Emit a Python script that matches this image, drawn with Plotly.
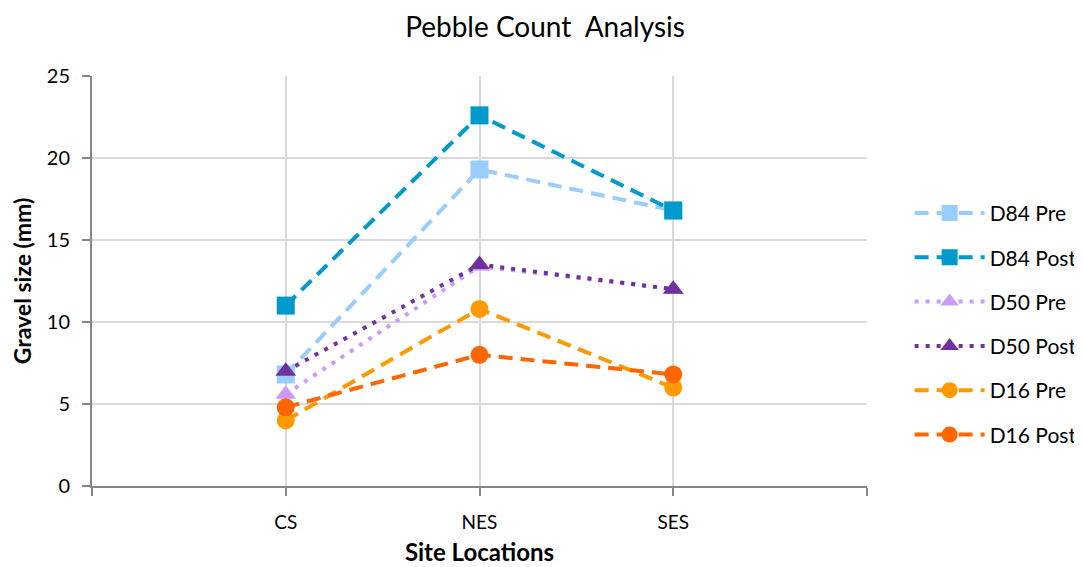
import plotly.graph_objects as go

# site positions on the axis (Excel-like category slots)
sites = ["CS", "NES", "SES"]
site_pos = [1, 2, 3]
tick_pos = [0, 1, 2, 3, 4]
tick_text = ["", "CS", "NES", "SES", ""]

d84_pre = [6.8, 19.3, 16.8]
d84_post = [11.0, 22.6, 16.8]
d50_pre = [5.6, 13.4, 12.0]
d50_post = [7.0, 13.5, 12.0]
d16_pre = [4.0, 10.8, 6.0]
d16_post = [4.8, 8.0, 6.8]

DASH = "14px,8px"
DOT = "4px,7px"

series = [
    ("D84 Pre", d84_pre, "#99CCFF", DASH, "square", 18),
    ("D84 Post", d84_post, "#0099CC", DASH, "square", 18),
    ("D50 Pre", d50_pre, "#CC99FF", DOT, "triangle-up", 18),
    ("D50 Post", d50_post, "#7030A0", DOT, "triangle-up", 18),
    ("D16 Pre", d16_pre, "#FF9900", DASH, "circle", 18),
    ("D16 Post", d16_post, "#FF6600", DASH, "circle", 18),
]

font_main = "Lato, 'Open Sans', sans-serif"

fig = go.Figure()
for name, vals, color, dash, sym, size in series:
    fig.add_trace(go.Scatter(
        x=site_pos, y=vals, name=name, mode="lines+markers",
        legendgroup=name,
        line=dict(color=color, width=4, dash=dash),
        marker=dict(color=color, symbol=sym, size=size)))

# page body adds an 8px margin, so the figure is 16px smaller and shifted
fig.update_layout(
    width=1074, height=559,
    paper_bgcolor="white", plot_bgcolor="white",
    margin=dict(l=84, r=215, t=68, b=81, autoexpand=False),
    title=dict(text="Pebble Count  Analysis", x=0.5, xanchor="center",
               y=0.965, yanchor="middle",
               font=dict(family=font_main, size=28, color="black")),
    font=dict(family=font_main, color="black"),
    legend=dict(x=1.055, xanchor="left", y=0.715, yanchor="top",
                font=dict(size=21, color="black"),
                itemwidth=70, tracegroupgap=14),
)

fig.update_xaxes(
    range=[0, 4], tickvals=tick_pos, ticktext=tick_text,
    showgrid=True, gridcolor="#D9D9D9", gridwidth=1.5,
    showline=True, linecolor="#868686", linewidth=2,
    ticks="outside", ticklen=8, tickcolor="#868686", tickwidth=2,
    tickfont=dict(size=19, color="black"), ticklabelstandoff=10,
    zeroline=False,
    title=dict(text="<b>Site Locations</b>", font=dict(size=24, color="black"), standoff=12),
    mirror=False)

fig.update_yaxes(
    range=[0, 25], dtick=5,
    showgrid=True, gridcolor="#D9D9D9", gridwidth=1.5,
    showline=True, linecolor="#868686", linewidth=2,
    ticks="outside", ticklen=8, tickcolor="#868686", tickwidth=2,
    tickfont=dict(size=20, color="black"), ticklabelstandoff=8,
    zeroline=False,
    title=dict(text="<b>Gravel size (mm)</b>", font=dict(size=23, color="black"), standoff=10))

fig.write_html("out.html")
